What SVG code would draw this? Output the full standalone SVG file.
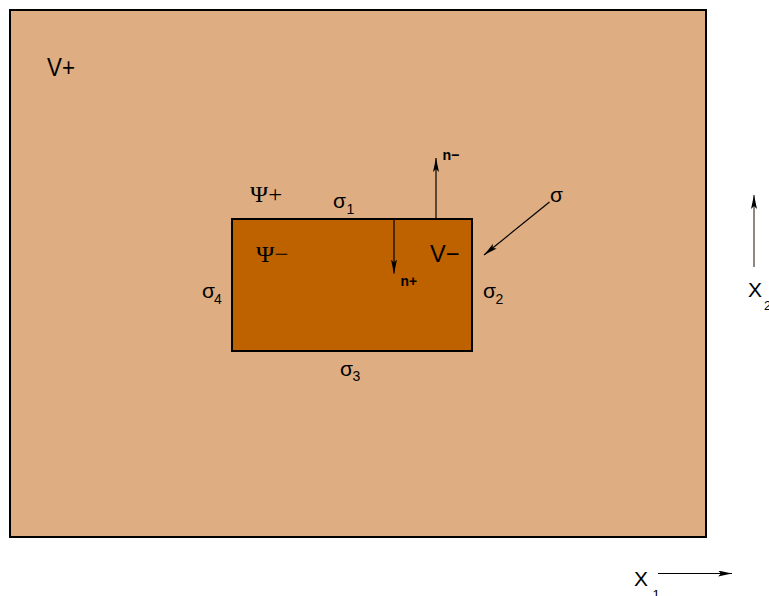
<svg xmlns="http://www.w3.org/2000/svg" width="769" height="596" viewBox="0 0 769 596">
<style>
.region{stroke:#000;stroke-width:2}
.sans{font-family:"Liberation Sans",Arial,sans-serif;fill:#000}
.serif{font-family:"Liberation Serif","Times New Roman",serif;fill:#000}
.bold{font-weight:bold}
.conn{stroke:#000;stroke-width:1.2;fill:none}
.axis{stroke:#4a3826;stroke-width:1.2;fill:none}
</style>
<defs>
<marker id="ah" viewBox="0 0 14 6" refX="14" refY="3" markerWidth="14" markerHeight="6" markerUnits="userSpaceOnUse" orient="auto">
<path d="M0,0 L14,3 L0,6 L3,3 Z" fill="#000"/>
</marker>
</defs>
<rect width="769" height="596" fill="#fff"/>
<g id="outer">
<rect class="region" x="10" y="10" width="696" height="527" fill="#DEAE82"/>
<text class="sans" font-size="25" x="47" y="76" textLength="28" lengthAdjust="spacingAndGlyphs">V+</text>
<text class="serif" font-size="24" x="250" y="201.5" textLength="32" lengthAdjust="spacingAndGlyphs">Ψ+</text>
</g>
<g id="inner">
<rect class="region" x="232" y="219" width="240" height="132" stroke-width="2.5" fill="#BE6200"/>
<text class="serif" font-size="24" x="256" y="261.5" textLength="32.5" lengthAdjust="spacingAndGlyphs">Ψ−</text>
<text class="sans" font-size="24" x="430" y="261.5" textLength="29.5" lengthAdjust="spacingAndGlyphs">V−</text>
</g>
<g id="boundary-labels" class="sans">
<text font-size="21" x="333" y="208">σ</text><text font-size="14" x="346.5" y="213.5">1</text>
<text font-size="21" x="483" y="298">σ</text><text font-size="14" x="495.5" y="304">2</text>
<text font-size="21" x="340" y="375.5">σ</text><text font-size="14" x="352.5" y="381">3</text>
<text font-size="21" x="202" y="298">σ</text><text font-size="14" x="214" y="303.5">4</text>
<text font-size="21" x="550" y="202">σ</text>
</g>
<g id="connectors">
<line class="conn" x1="436" y1="219" x2="436" y2="158" marker-end="url(#ah)"/>
<line class="conn" x1="394" y1="219" x2="394" y2="273.5" marker-end="url(#ah)"/>
<line class="conn" x1="549.5" y1="202" x2="484" y2="255" marker-end="url(#ah)"/>
<line class="axis" x1="754" y1="267" x2="754" y2="195" marker-end="url(#ah)"/>
<line class="conn" x1="658" y1="573.5" x2="732" y2="573.5" marker-end="url(#ah)"/>
</g>
<g id="normal-labels" class="sans bold">
<text font-size="15" x="442.5" y="160" textLength="17" lengthAdjust="spacingAndGlyphs">n−</text>
<text font-size="15" x="400.5" y="286" textLength="16.5" lengthAdjust="spacingAndGlyphs">n+</text>
</g>
<g id="axis-labels" class="sans">
<text font-size="21" x="634" y="586" textLength="14" lengthAdjust="spacingAndGlyphs">X</text>
<text font-size="13" x="652.5" y="599">1</text>
<text font-size="21" x="748" y="297" textLength="14" lengthAdjust="spacingAndGlyphs">X</text>
<text font-size="13" x="764" y="310">2</text>
</g>
</svg>
